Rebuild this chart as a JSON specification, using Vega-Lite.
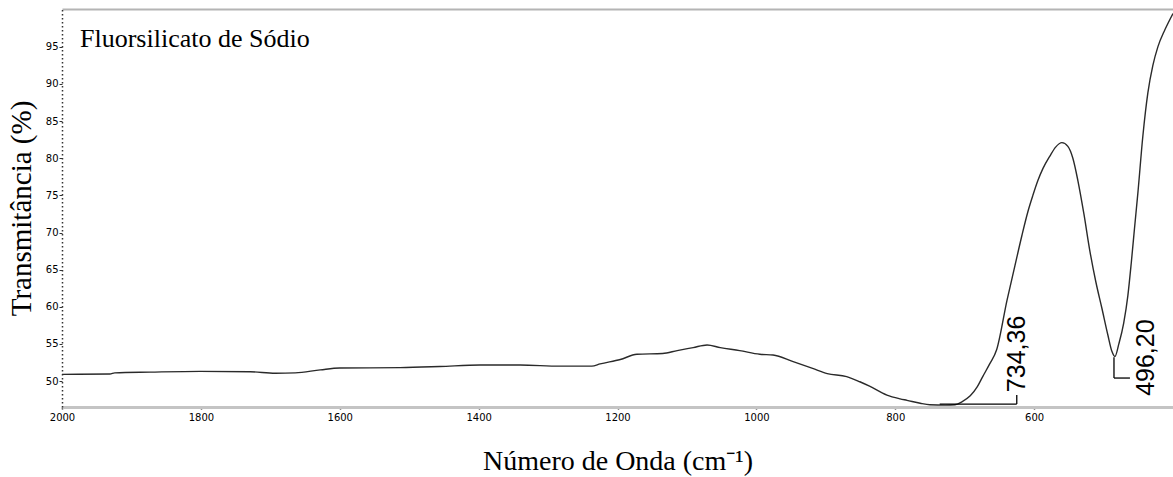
{
  "$schema": "https://vega.github.io/schema/vega-lite/v6.json",
  "width": 1111,
  "height": 398,
  "autosize": {"type": "none"},
  "padding": {"left": 62, "top": 9, "right": 0, "bottom": 70},
  "background": "white",
  "config": {"view": {"stroke": null}, "axis": {"grid": false}},
  "title": {
    "text": "Fluorsilicato de Sódio",
    "anchor": "start",
    "frame": "group",
    "orient": "top",
    "offset": -64,
    "dx": 18,
    "baseline": "alphabetic",
    "font": "Liberation Serif",
    "fontSize": 26,
    "fontWeight": "normal",
    "color": "black"
  },
  "datasets": {
    "spectrum": [
      {"wn": 2000, "T": 50.9}, {"wn": 1931, "T": 50.95}, {"wn": 1924, "T": 51.1}, {"wn": 1873, "T": 51.2},
      {"wn": 1801, "T": 51.3}, {"wn": 1729, "T": 51.25}, {"wn": 1693, "T": 51.05}, {"wn": 1664, "T": 51.1},
      {"wn": 1628, "T": 51.5}, {"wn": 1600, "T": 51.75}, {"wn": 1513, "T": 51.8}, {"wn": 1456, "T": 51.95},
      {"wn": 1398, "T": 52.15}, {"wn": 1340, "T": 52.15}, {"wn": 1283, "T": 52.0}, {"wn": 1237, "T": 52.0},
      {"wn": 1225, "T": 52.3}, {"wn": 1196, "T": 52.9}, {"wn": 1172, "T": 53.6}, {"wn": 1135, "T": 53.7},
      {"wn": 1114, "T": 54.1}, {"wn": 1091, "T": 54.5}, {"wn": 1071, "T": 54.85}, {"wn": 1052, "T": 54.5},
      {"wn": 1024, "T": 54.1}, {"wn": 995, "T": 53.6}, {"wn": 976, "T": 53.5}, {"wn": 947, "T": 52.6},
      {"wn": 919, "T": 51.7}, {"wn": 898, "T": 51.0}, {"wn": 870, "T": 50.6}, {"wn": 851, "T": 49.9},
      {"wn": 837, "T": 49.3}, {"wn": 812, "T": 48.1}, {"wn": 793, "T": 47.6}, {"wn": 783, "T": 47.4},
      {"wn": 764, "T": 47.0}, {"wn": 750, "T": 46.8}, {"wn": 728, "T": 46.75}, {"wn": 714, "T": 46.8},
      {"wn": 704, "T": 47.2}, {"wn": 692, "T": 48.0}, {"wn": 682, "T": 49.2}, {"wn": 674, "T": 50.6},
      {"wn": 664, "T": 52.3}, {"wn": 654, "T": 54.2}, {"wn": 639, "T": 60.9}, {"wn": 627.7, "T": 65.5},
      {"wn": 617.6, "T": 69.6}, {"wn": 609, "T": 72.8}, {"wn": 601.8, "T": 75.0}, {"wn": 594.6, "T": 77.0},
      {"wn": 587.4, "T": 78.6}, {"wn": 577.3, "T": 80.3}, {"wn": 569, "T": 81.5}, {"wn": 560, "T": 82.1},
      {"wn": 551.4, "T": 81.6}, {"wn": 544.2, "T": 80.0}, {"wn": 537, "T": 77.0}, {"wn": 528.3, "T": 72.5},
      {"wn": 519.7, "T": 67.5}, {"wn": 511, "T": 63.3}, {"wn": 502.4, "T": 59.8}, {"wn": 493.8, "T": 56.2},
      {"wn": 488, "T": 54.0}, {"wn": 483.7, "T": 53.3}, {"wn": 478, "T": 55.0}, {"wn": 471, "T": 57.8},
      {"wn": 465, "T": 61.5}, {"wn": 460, "T": 66.0}, {"wn": 455.5, "T": 70.5}, {"wn": 450.6, "T": 75.3},
      {"wn": 443.4, "T": 83.0}, {"wn": 436.2, "T": 88.8}, {"wn": 429, "T": 92.5}, {"wn": 421.8, "T": 95.0},
      {"wn": 411.7, "T": 97.3}, {"wn": 400, "T": 99.5}
    ],
    "brackets": [
      {"x1": 736, "x2": 625, "y1": 46.9, "y2": 46.9},
      {"x1": 625, "x2": 625, "y1": 46.9, "y2": 48.1},
      {"x1": 485, "x2": 485, "y1": 53.2, "y2": 50.4},
      {"x1": 485, "x2": 462, "y1": 50.4, "y2": 50.4}
    ],
    "peaks": [
      {"label": "734,36", "lx": 625, "ly": 48.5},
      {"label": "496,20", "lx": 439, "ly": 48.0}
    ]
  },
  "resolve": {"axis": {"x": "independent", "y": "independent"}},
  "layer": [
    {
      "data": {"name": "spectrum"},
      "mark": {"type": "line", "color": "#2a2a2a", "strokeWidth": 1.4, "interpolate": "monotone"},
      "encoding": {
        "x": {
          "field": "wn", "type": "quantitative",
          "scale": {"domain": [2000, 400], "nice": false, "zero": false},
          "axis": {
            "orient": "bottom",
            "values": [2000, 1800, 1600, 1400, 1200, 1000, 800, 600],
            "format": "d",
            "labelFont": "DejaVu Sans", "labelFontSize": 10, "labelColor": "black",
            "labelFlush": false, "labelOverlap": false,
            "domainColor": "#c4c4c4", "domainWidth": 3,
            "tickColor": "#222222", "tickSize": 2, "tickWidth": 1.5,
            "labelPadding": 3,
            "title": "Número de Onda  (cm⁻¹)",
            "titleFont": "Liberation Serif", "titleFontSize": 28, "titleFontWeight": "normal",
            "titleColor": "black", "titlePadding": 25
          }
        },
        "y": {
          "field": "T", "type": "quantitative",
          "scale": {"domain": [46.5, 100.1], "nice": false, "zero": false},
          "axis": {
            "values": [50, 55, 60, 65, 70, 75, 80, 85, 90, 95],
            "labelFont": "DejaVu Sans", "labelFontSize": 10, "labelColor": "black",
            "labelPadding": 1,
            "domainColor": "#333333", "domainWidth": 1.5, "domainDash": [1.5, 2.5],
            "tickColor": "#333333", "tickSize": 3,
            "title": "Transmitância (%)",
            "titleFont": "Liberation Serif", "titleFontSize": 29, "titleFontWeight": "normal",
            "titleColor": "black", "titlePadding": 9
          }
        }
      }
    },
    {
      "data": {"name": "brackets"},
      "mark": {"type": "rule", "color": "black", "strokeWidth": 1.3},
      "encoding": {
        "x": {
          "field": "x1", "type": "quantitative",
          "axis": {"orient": "top", "labels": false, "ticks": false, "title": null, "domainColor": "#b4b4b4", "domainWidth": 2}
        },
        "x2": {"field": "x2"},
        "y": {"field": "y1", "type": "quantitative", "axis": null},
        "y2": {"field": "y2"}
      }
    },
    {
      "data": {"name": "peaks"},
      "mark": {"type": "text", "angle": 270, "align": "left", "baseline": "middle", "font": "Liberation Sans", "fontSize": 25, "color": "black"},
      "encoding": {
        "x": {"field": "lx", "type": "quantitative", "axis": null},
        "y": {"field": "ly", "type": "quantitative", "axis": null},
        "text": {"field": "label"}
      }
    }
  ]
}
